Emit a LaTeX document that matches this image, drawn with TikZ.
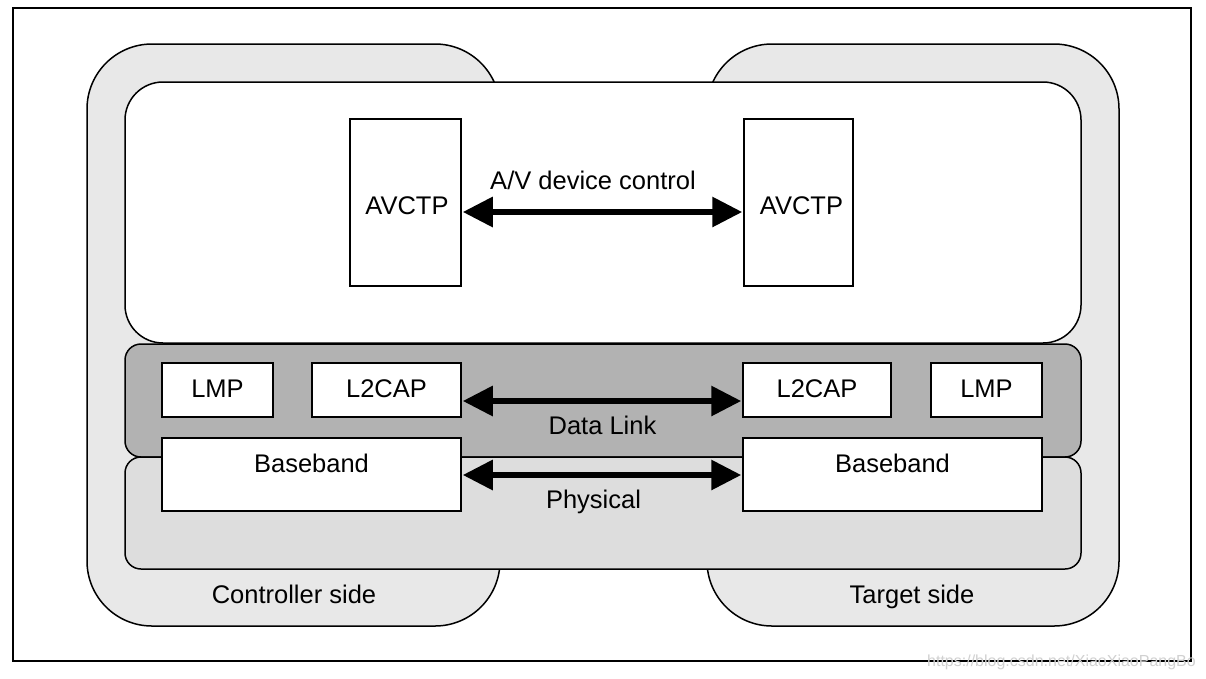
\documentclass[tikz,border=0pt]{standalone}
\usepackage{fontspec}
\setmainfont{Liberation Sans}
\usetikzlibrary{arrows.meta}
\definecolor{sidegray}{HTML}{E8E8E8}
\definecolor{linkgray}{HTML}{B2B2B2}
\definecolor{phygray}{HTML}{DDDDDD}
\tikzset{
  frame/.style={draw=black, line width=1.5pt},
  sideshape/.style={draw=black, line width=1.5pt, fill=sidegray, rounded corners=65pt},
  layer/.style={draw=black, line width=1.5pt, rounded corners=#1},
  blk/.style={draw=black, line width=1.5pt, fill=white, inner sep=0pt, font=\fontsize{25.5}{28}\selectfont},
  lbl/.style={inner sep=0pt, anchor=base, font=\fontsize{25.5}{28}\selectfont},
  bigarrow/.style={line width=6pt, {Triangle[length=30pt,width=29pt]}-{Triangle[length=30pt,width=29pt]}, shorten <=1pt, shorten >=1pt}
}
\begin{document}
\begin{tikzpicture}[x=1pt, y=-1pt]
\useasboundingbox (0,0) rectangle (1206,678);
\fill[white] (0,0) rectangle (1206,678);
\draw[frame] (13,8) rectangle (1191,661);
% side shapes
\draw[sideshape] (87,44) rectangle (500,626);
\draw[sideshape] (707,44) rectangle (1119,626);
% layers
\draw[layer=38pt, fill=white] (125,82) rectangle (1081,343);
\draw[layer=16pt, fill=linkgray] (125,344) rectangle (1081,457);
\draw[layer=16pt, fill=phygray] (125,457) rectangle (1081,569);
% blocks
\node[blk, minimum width=111pt, minimum height=167pt, text height=23pt, text depth=0pt] (avL) at (405.5,202.5) {\hspace*{3pt}AVCTP};
\node[blk, minimum width=109pt, minimum height=167pt, text height=23pt, text depth=0pt] (avR) at (798.5,202.5) {\hspace*{6pt}AVCTP};
\node[blk, minimum width=111pt, minimum height=54pt, text height=14pt, text depth=0pt] (lmpL) at (217.5,390) {LMP};
\node[blk, minimum width=149pt, minimum height=54pt, text height=14pt, text depth=0pt] (l2L) at (386.5,390) {L2CAP};
\node[blk, minimum width=148pt, minimum height=54pt, text height=14pt, text depth=0pt] (l2R) at (817,390) {L2CAP};
\node[blk, minimum width=111pt, minimum height=54pt, text height=14pt, text depth=0pt] (lmpR) at (986.5,390) {LMP};
\node[blk, minimum width=299pt, minimum height=73pt, text height=20pt, text depth=25pt] (bbL) at (311.5,474.5) {Baseband};
\node[blk, minimum width=299pt, minimum height=73pt, text height=20pt, text depth=25pt] (bbR) at (892.5,474.5) {Baseband};
% arrows
\draw[bigarrow] (avL.east |- 0,212) -- (avR.west |- 0,212);
\draw[bigarrow] (l2L.east |- 0,401) -- (l2R.west |- 0,401);
\draw[bigarrow] (bbL.east |- 0,475) -- (bbR.west |- 0,475);
% labels
\node[lbl] (avlab) at (593,189) {A/V device control};
\node[lbl] (dllab) at (602.5,434) {Data Link};
\node[lbl] (phlab) at (593.5,508) {Physical};
\node[lbl] (ctl) at (294,603) {Controller side};
\node[lbl] (tgt) at (912,603) {Target side};
\node[inner sep=0pt, anchor=base east, text=black!18, font=\fontsize{16}{18}\selectfont] (wm) at (1196,666) {https://blog.csdn.net/XiaoXiaoPangBo};
\end{tikzpicture}
\end{document}
